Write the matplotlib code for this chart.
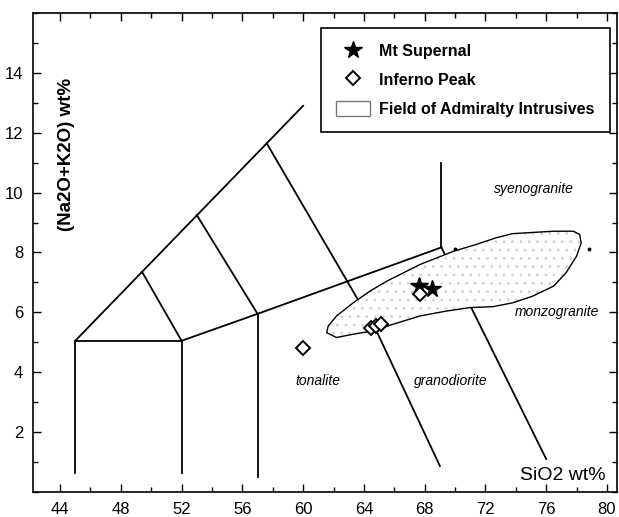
import matplotlib
matplotlib.use("Agg")
import matplotlib.pyplot as plt
from matplotlib.patches import Polygon, Patch
from matplotlib.lines import Line2D
from matplotlib.ticker import MultipleLocator

plt.rcParams['font.family'] = ['Liberation Sans', 'DejaVu Sans']
plt.rcParams['hatch.linewidth'] = 0.8

# classification boundaries (SiO2 wt%, Na2O+K2O wt%)
bound_x = [
    [45, 45], [52, 52], [57, 57], [45, 52], [45, 60],
    [49.4, 52], [53, 57], [57.6, 64.9, 69], [52, 57, 69.1],
    [69.1, 69.1], [69.1, 76],
]
bound_y = [
    [0.65, 5.05], [0.65, 5.05], [0.5, 5.95], [5.05, 5.05], [5.05, 12.9],
    [7.35, 5.05], [9.25, 5.95], [11.65, 5.3, 0.87], [5.05, 5.95, 8.17],
    [8.17, 11.0], [8.17, 1.1],
]
dots_x = [70.0, 78.8]
dots_y = [8.12, 8.12]

# outline of the Admiralty Intrusives field
field_x = [61.55, 62.2, 63.3, 64.6, 65.9, 67.7, 69.4, 71.0, 72.5, 73.8, 75.1,
           76.5, 77.3, 78.0, 78.3, 78.2, 77.8, 76.5, 73.8, 72.7, 71.4, 69.9,
           68.8, 67.7, 66.6, 65.5, 64.4, 63.3, 62.2, 61.65]
field_y = [5.32, 5.16, 5.27, 5.38, 5.6, 5.88, 6.04, 6.16, 6.19, 6.32, 6.54,
           6.88, 7.32, 7.88, 8.32, 8.6, 8.71, 8.71, 8.63, 8.49, 8.27, 8.04,
           7.82, 7.6, 7.32, 7.04, 6.71, 6.32, 5.88, 5.54]

# samples
supernal_x = [67.6, 68.5]
supernal_y = [6.88, 6.77]
inferno_x = [60.0, 64.5, 64.8, 65.1, 67.7]
inferno_y = [4.8, 5.47, 5.55, 5.62, 6.6]

# rock names
names = ["syenogranite", "monzogranite", "granodiorite", "tonalite"]
names_x = [75.2, 76.7, 69.7, 61.0]
names_y = [10.13, 6.0, 3.7, 3.7]

fig = plt.figure(figsize=(6.19, 5.17), dpi=100)
ax = fig.add_axes([0.0533, 0.0484, 0.9435, 0.9265])

for xs, ys in zip(bound_x, bound_y):
    ax.plot(xs, ys, color="black", lw=1.3, zorder=1)
ax.plot(dots_x, dots_y, "o", color="black", ms=1.8, zorder=1)

pts = list(zip(field_x, field_y))
ax.add_patch(Polygon(pts, closed=True, facecolor="white", edgecolor="#d2d2d2",
                     hatch="..", lw=0, zorder=2))
ax.add_patch(Polygon(pts, closed=True, facecolor="none", edgecolor="black",
                     lw=1.0, zorder=2.1))

ax.plot(supernal_x, supernal_y, "*", color="black", ms=13, zorder=3)
ax.plot(inferno_x, inferno_y, "D", mfc="white", mec="black", mew=1.4, ms=7.5,
        zorder=4)

for t, x, y in zip(names, names_x, names_y):
    ax.text(x, y, t, style="italic", fontsize=10, ha="center", va="center")

ax.text(44.4, 11.27, "(Na2O+K2O) wt%", rotation=90, fontsize=13.5,
        fontweight="bold", ha="center", va="center")
ax.text(79.9, 0.55, "SiO2 wt%", fontsize=14, ha="right", va="center")

ax.set_xlim(42.22, 80.66)
ax.set_ylim(0, 16)
ax.xaxis.set_major_locator(MultipleLocator(4))
ax.xaxis.set_minor_locator(MultipleLocator(2))
ax.yaxis.set_major_locator(MultipleLocator(2))
ax.yaxis.set_minor_locator(MultipleLocator(1))
ax.set_yticks(range(2, 15, 2))
ax.tick_params(which="both", direction="in", top=True, right=True,
               labelsize=12, width=1)
ax.tick_params(which="major", length=6, pad=7)
ax.tick_params(which="minor", length=3.5)
for s in ax.spines.values():
    s.set_linewidth(1.2)

handles = [
    Line2D([], [], marker="*", ls="none", color="black", ms=13),
    Line2D([], [], marker="D", ls="none", mfc="white", mec="black", mew=1.4, ms=7.5),
    Patch(facecolor="white", edgecolor="#777777", lw=1),
]
labels = ["Mt Supernal", "Inferno Peak", "Field of Admiralty Intrusives"]
leg = ax.legend(handles, labels, loc="upper right", bbox_to_anchor=(0.988, 0.969),
                borderaxespad=0, fancybox=False, edgecolor="black",
                prop={"weight": "bold", "size": 11.5}, handlelength=2.1,
                handleheight=1.1, handletextpad=0.6, labelspacing=0.8,
                borderpad=0.95, framealpha=1)
leg.get_frame().set_linewidth(1.2)

fig.savefig("out.png", dpi=100)
